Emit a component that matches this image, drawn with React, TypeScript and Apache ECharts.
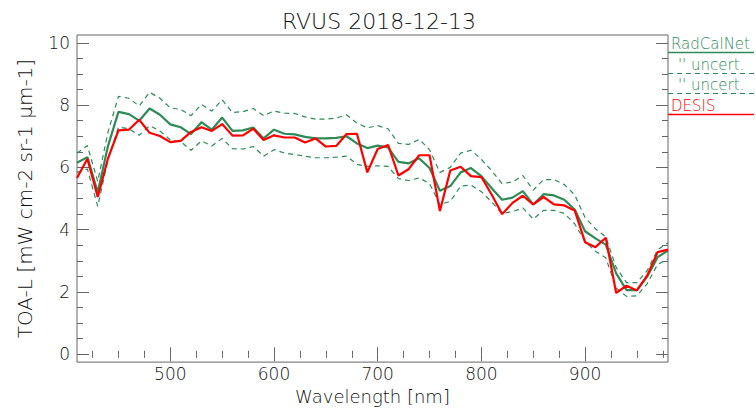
import React, { useEffect, useRef } from "react";
import * as echarts from "echarts";

const wavelengths = [410, 420, 430, 440, 450, 460, 470, 480, 490, 500, 510, 520, 530, 540, 550, 560, 570, 580, 590, 600, 610, 620, 630, 640, 650, 660, 670, 680, 690, 700, 710, 720, 730, 740, 750, 760, 770, 780, 790, 800, 810, 820, 830, 840, 850, 860, 870, 880, 890, 900, 910, 920, 930, 940, 950, 960, 970, 980];

const radCalNet = [6.15, 6.33, 5.2, 6.7, 7.78, 7.71, 7.5, 7.89, 7.69, 7.38, 7.29, 7.07, 7.45, 7.21, 7.6, 7.17, 7.19, 7.28, 6.93, 7.21, 7.08, 7.06, 6.98, 6.93, 6.93, 6.95, 7.0, 6.77, 6.62, 6.7, 6.64, 6.18, 6.13, 6.29, 5.98, 5.25, 5.4, 5.84, 5.98, 5.72, 5.33, 4.96, 5.03, 5.24, 4.81, 5.14, 5.1, 4.96, 4.65, 3.95, 3.72, 3.52, 2.6, 2.06, 2.06, 2.5, 3.12, 3.33];

const uncertUpper = [6.46, 6.7, 5.55, 7.15, 8.28, 8.22, 7.97, 8.41, 8.22, 7.91, 7.86, 7.66, 8.02, 7.81, 8.17, 7.76, 7.79, 7.89, 7.66, 7.81, 7.74, 7.73, 7.62, 7.55, 7.55, 7.58, 7.69, 7.42, 7.27, 7.34, 7.24, 6.77, 6.74, 6.9, 6.57, 5.84, 6.0, 6.46, 6.55, 6.26, 5.89, 5.48, 5.53, 5.74, 5.27, 5.61, 5.61, 5.45, 5.12, 4.39, 4.03, 3.77, 2.79, 2.3, 2.3, 2.69, 3.36, 3.58];

const uncertLower = [5.84, 5.95, 4.75, 6.27, 7.29, 7.24, 7.03, 7.34, 7.17, 6.88, 6.83, 6.55, 6.85, 6.69, 6.93, 6.6, 6.59, 6.67, 6.36, 6.57, 6.46, 6.41, 6.36, 6.31, 6.31, 6.33, 6.36, 6.1, 6.03, 6.05, 6.03, 5.64, 5.58, 5.66, 5.48, 4.81, 4.91, 5.4, 5.43, 5.22, 4.89, 4.52, 4.58, 4.7, 4.34, 4.62, 4.62, 4.52, 4.19, 3.62, 3.31, 3.1, 2.12, 1.86, 1.88, 2.27, 2.89, 3.05];

const desis = [5.66, 6.28, 5.05, 6.3, 7.19, 7.21, 7.53, 7.11, 7.01, 6.81, 6.85, 7.14, 7.29, 7.17, 7.39, 7.02, 7.03, 7.24, 6.88, 7.03, 6.96, 6.96, 6.8, 6.93, 6.67, 6.69, 7.07, 7.08, 5.84, 6.59, 6.72, 5.74, 5.95, 6.39, 6.39, 4.6, 5.9, 6.02, 5.72, 5.69, 5.12, 4.5, 4.86, 5.09, 4.81, 5.05, 4.81, 4.78, 4.62, 3.6, 3.44, 3.74, 1.97, 2.2, 2.05, 2.53, 3.28, 3.36];

const xMajorTicks = [500, 600, 700, 800, 900];
const xMinorTicks = [425, 450, 475, 525, 550, 575, 625, 650, 675, 725, 750, 775, 825, 850, 875, 925, 950, 975];
const yMajorTicks = [0, 2, 4, 6, 8, 10];
const yMinorTicks = [0.5, 1, 1.5, 2.5, 3, 3.5, 4.5, 5, 5.5, 6.5, 7, 7.5, 8.5, 9, 9.5];

const X_MIN = 410;
const X_MAX = 980;
const Y_MIN = -0.25;
const Y_MAX = 10.25;

const titleText = "RVUS 2018-12-13";
const xName = "Wavelength [nm]";
const yName = "TOA-L [mW cm-2 sr-1 \u03bcm-1]";
const legendLabels = ["RadCalNet", "'' uncert.", "'' uncert.", "DESIS"];

const GREEN = "#2e8b57";
const RED = "#ff0000";
const FRAME = "#666666";
const TEXT = "#111111";
const FONT = "'DejaVu Sans', 'Liberation Sans', sans-serif";
const WEIGHT = 200;

function pairs(ys: number[]) {
  return wavelengths.map((w, i) => [w, ys[i]]);
}

export default function App() {
  const ref = useRef<HTMLDivElement>(null);
  useEffect(() => {
    if (!ref.current) return;
    const chart = echarts.init(ref.current, null, { renderer: "svg" });

    const xAx = (pos: string, values: number[], len: number, labels: boolean, withName: boolean) => ({
      type: "value",
      min: X_MIN,
      max: X_MAX,
      position: pos,
      gridIndex: 0,
      axisLine: { show: false },
      splitLine: { show: false },
      axisTick: { show: true, inside: true, length: len, customValues: values, lineStyle: { color: FRAME, width: 1 } },
      axisLabel: labels
        ? { show: true, customValues: xMajorTicks, color: TEXT, fontFamily: FONT, fontWeight: WEIGHT, fontSize: 17, margin: 3 }
        : { show: false },
      name: withName ? xName : "",
      nameLocation: "middle",
      nameGap: 17,
      nameTextStyle: { color: TEXT, fontFamily: FONT, fontWeight: WEIGHT, fontSize: 18 },
    });
    const yAx = (pos: string, values: number[], len: number, labels: boolean, withName: boolean) => ({
      type: "value",
      min: Y_MIN,
      max: Y_MAX,
      position: pos,
      gridIndex: 0,
      axisLine: { show: false },
      splitLine: { show: false },
      axisTick: { show: true, inside: true, length: len, customValues: values, lineStyle: { color: FRAME, width: 1 } },
      axisLabel: labels
        ? { show: true, customValues: yMajorTicks, color: TEXT, fontFamily: FONT, fontWeight: WEIGHT, fontSize: 17, margin: 7 }
        : { show: false },
      name: withName ? yName : "",
      nameLocation: "middle",
      nameGap: 42,
      nameRotate: 90,
      nameTextStyle: { color: TEXT, fontFamily: FONT, fontWeight: WEIGHT, fontSize: 20 },
    });

    const rows = [51, 72, 92, 113];
    const legendColors = [GREEN, GREEN, GREEN, RED];
    const legendDashed = [false, true, true, false];
    const legendTextX = [671, 678, 678, 671];
    const graphics: any[] = [];
    legendLabels.forEach((lab, i) => {
      graphics.push({
        type: "text",
        x: legendTextX[i],
        y: rows[i],
        style: {
          text: lab,
          fill: legendColors[i],
          font: `${WEIGHT} 15px ${FONT}`,
          textVerticalAlign: "bottom",
        },
      });
      graphics.push({
        type: "line",
        shape: { x1: 668, y1: rows[i] + 1.5, x2: 754, y2: rows[i] + 1.5 },
        style: {
          stroke: legendColors[i],
          lineWidth: legendDashed[i] ? 1.2 : 1.5,
          lineDash: legendDashed[i] ? [5, 4] : null,
        },
      });
    });

    const option: any = {
      animation: false,
      backgroundColor: "#ffffff",
      title: {
        text: titleText,
        left: 374,
        top: 5,
        textAlign: "center",
        textStyle: { color: TEXT, fontFamily: FONT, fontSize: 22, fontWeight: WEIGHT },
      },
      grid: {
        left: 77,
        right: 88,
        top: 35,
        bottom: 37,
        show: true,
        borderColor: FRAME,
        borderWidth: 1,
        backgroundColor: "transparent",
      },
      xAxis: [
        xAx("bottom", xMajorTicks, 7, true, true),
        xAx("bottom", xMinorTicks, 3.5, false, false),
        xAx("top", xMajorTicks, 7, false, false),
        xAx("top", xMinorTicks, 3.5, false, false),
      ],
      yAxis: [
        yAx("left", yMajorTicks, 12, true, true),
        yAx("left", yMinorTicks, 6, false, false),
        yAx("right", yMajorTicks, 12, false, false),
        yAx("right", yMinorTicks, 6, false, false),
      ],
      series: [
        {
          name: "'' uncert. upper",
          type: "line",
          xAxisIndex: 0,
          yAxisIndex: 0,
          data: pairs(uncertUpper),
          showSymbol: false,
          symbol: "none",
          lineStyle: { color: GREEN, width: 1.2, type: [5, 4] },
        },
        {
          name: "'' uncert. lower",
          type: "line",
          xAxisIndex: 0,
          yAxisIndex: 0,
          data: pairs(uncertLower),
          showSymbol: false,
          symbol: "none",
          lineStyle: { color: GREEN, width: 1.2, type: [5, 4] },
        },
        {
          name: "RadCalNet",
          type: "line",
          xAxisIndex: 0,
          yAxisIndex: 0,
          data: pairs(radCalNet),
          showSymbol: false,
          symbol: "none",
          lineStyle: { color: GREEN, width: 2.2 },
        },
        {
          name: "DESIS",
          type: "line",
          xAxisIndex: 0,
          yAxisIndex: 0,
          data: pairs(desis),
          showSymbol: false,
          symbol: "none",
          lineStyle: { color: RED, width: 2.2 },
        },
      ],
      graphic: graphics,
    };

    chart.setOption(option);
    return () => chart.dispose();
  }, []);

  return (
    <div
      ref={ref}
      style={{ position: "fixed", left: 0, top: 0, width: 756, height: 410, background: "#fff" }}
    />
  );
}
